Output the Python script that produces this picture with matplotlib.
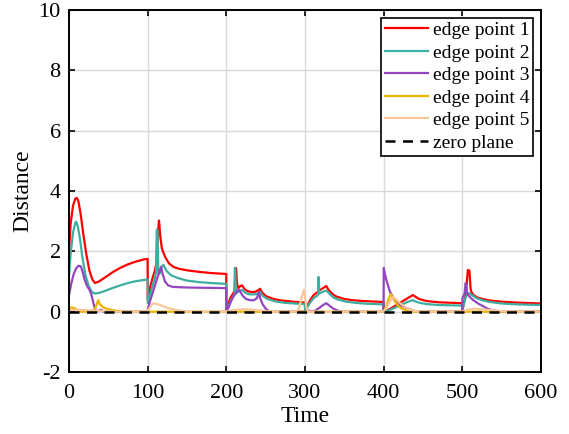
import matplotlib as mpl
import matplotlib.pyplot as plt

# edge point 1
t_1 = [0, 2, 5, 8, 10, 12, 15, 18, 22, 26, 30, 33, 38, 45, 55, 65, 75, 85, 95, 99.9,
       100.1, 103, 106, 109, 111, 113, 114.4, 116, 118, 122, 127, 133, 140, 150, 165, 180, 199.9,
       200.1, 203, 206, 209, 210.5, 211.5, 212.5, 213.5, 215, 218, 220, 223, 227, 232, 237, 241, 243, 245, 250, 260, 270, 285, 299.9,
       300.1, 303, 307, 311, 315, 319, 323, 327, 330, 335, 340, 350, 360, 375, 399.9,
       400.1, 405, 410, 415, 420, 425, 430, 434, 437, 440, 445, 455, 470, 499.9,
       500.1, 502, 504, 505.5, 507, 509, 510.5, 512, 515, 520, 527, 535, 550, 570, 600]
d_1 = [2.0, 2.9, 3.5, 3.75, 3.77, 3.65, 3.2, 2.6, 1.9, 1.35, 1.05, 0.95, 1.0, 1.12, 1.3, 1.45, 1.57, 1.66, 1.73, 1.75,
       0.4, 0.8, 1.1, 1.35, 1.6, 2.6, 3.02, 2.5, 2.1, 1.82, 1.6, 1.48, 1.42, 1.37, 1.32, 1.28, 1.25,
       0.05, 0.3, 0.5, 0.62, 0.7, 1.45, 1.43, 0.95, 0.78, 0.85, 0.87, 0.75, 0.68, 0.65, 0.66, 0.72, 0.76, 0.65, 0.52, 0.42, 0.37, 0.33, 0.3,
       0.05, 0.2, 0.4, 0.55, 0.63, 0.72, 0.78, 0.85, 0.72, 0.58, 0.5, 0.42, 0.38, 0.35, 0.32,
       0.02, 0.05, 0.12, 0.2, 0.28, 0.36, 0.44, 0.5, 0.55, 0.5, 0.42, 0.35, 0.31, 0.28,
       0.05, 0.3, 0.5, 0.9, 1.38, 1.36, 0.75, 0.62, 0.53, 0.46, 0.41, 0.37, 0.33, 0.3, 0.27]

# edge point 2
t_2 = [0, 2, 5, 8, 9, 11, 14, 17, 21, 25, 29, 33, 38, 45, 55, 65, 75, 85, 95, 99.9,
       100.1, 103, 106, 109, 110.5, 111.5, 112.5, 113.5, 115, 118, 120, 124, 130, 140, 150, 165, 180, 199.9,
       200.1, 203, 206, 209, 210.3, 210.8, 211.4, 212, 215, 218, 220, 224, 228, 233, 238, 241, 243, 246, 252, 262, 275, 299.9,
       300.1, 303, 307, 311, 315, 316.5, 317, 317.6, 318.2, 322, 327, 331, 336, 342, 352, 365, 380, 399.9,
       400.1, 405, 410, 415, 420, 425, 430, 437, 440, 446, 455, 470, 499.9,
       500.1, 502, 504, 506, 508, 512, 518, 525, 535, 550, 570, 600]
d_2 = [1.2, 1.9, 2.6, 2.95, 2.98, 2.85, 2.4, 1.8, 1.2, 0.85, 0.65, 0.6, 0.62, 0.68, 0.78, 0.87, 0.95, 1.01, 1.05, 1.07,
       0.28, 0.55, 0.85, 1.1, 1.3, 2.72, 2.7, 1.3, 1.25, 1.5, 1.55, 1.35, 1.2, 1.1, 1.03, 0.98, 0.95, 0.92,
       0.03, 0.2, 0.38, 0.52, 0.56, 1.45, 1.4, 0.6, 0.65, 0.7, 0.72, 0.63, 0.58, 0.57, 0.58, 0.62, 0.65, 0.53, 0.42, 0.34, 0.29, 0.25,
       0.03, 0.15, 0.32, 0.45, 0.52, 0.55, 1.15, 1.1, 0.6, 0.65, 0.7, 0.6, 0.47, 0.4, 0.33, 0.29, 0.26, 0.24,
       0.01, 0.03, 0.08, 0.14, 0.2, 0.26, 0.32, 0.38, 0.34, 0.29, 0.25, 0.22, 0.2,
       0.03, 0.25, 0.45, 0.58, 0.62, 0.55, 0.45, 0.38, 0.32, 0.27, 0.24, 0.22]

# edge point 3
t_3 = [0, 3, 6, 9, 12, 15, 17, 20, 23, 26, 28, 30, 32, 34, 36, 39, 41, 44, 99.9,
       100.1, 103, 106, 109, 112, 115, 117, 119, 122, 126, 132, 150, 199.9,
       200.1, 203, 206, 209, 212, 214, 216, 218, 221, 225, 230, 235, 239, 241.5, 243, 246, 250, 254, 258, 299.9,
       300.1, 303, 307, 312, 318, 323, 327, 331, 336, 342, 348, 399.8,
       400.1, 401.5, 404, 408, 412, 416.5, 422, 429, 436, 442, 499.9,
       500.1, 502, 503, 504, 505, 506, 509, 514, 520, 525, 532, 540, 548, 600]
d_3 = [0.55, 0.95, 1.25, 1.43, 1.52, 1.5, 1.35, 1.05, 0.85, 0.72, 0.6, 0.4, 0.18, 0.04, 0.0, 0.05, 0.06, 0.0, 0.0,
       0.08, 0.35, 0.6, 0.85, 1.1, 1.35, 1.48, 1.25, 1.0, 0.87, 0.82, 0.8, 0.78,
       0.0, 0.15, 0.35, 0.5, 0.62, 0.7, 0.73, 0.65, 0.52, 0.42, 0.38, 0.38, 0.45, 0.66, 0.45, 0.25, 0.1, 0.02, 0.0, 0.0,
       0.0, 0.05, 0.02, 0.02, 0.12, 0.22, 0.28, 0.2, 0.1, 0.03, 0.0, 0.0,
       1.45, 1.25, 1.0, 0.66, 0.47, 0.33, 0.2, 0.12, 0.05, 0.0, 0.0,
       0.45, 0.55, 0.62, 0.94, 0.9, 0.6, 0.5, 0.38, 0.27, 0.2, 0.1, 0.03, 0.0, 0.0]

# edge point 4
t_4 = [0, 4, 8, 12, 16, 22, 30, 34, 37, 39, 43, 50, 60, 70,
       400, 403, 406, 409, 411, 414, 418, 423, 430, 436, 600]
d_4 = [0.12, 0.14, 0.1, 0.03, 0.0, 0.0, 0.02, 0.15, 0.38, 0.25, 0.15, 0.08, 0.03, 0.0,
       0.0, 0.15, 0.4, 0.58, 0.5, 0.35, 0.2, 0.1, 0.03, 0.0, 0.0]

# edge point 5
t_5 = [0, 10, 20, 30, 40, 50, 60, 100,
       100.1, 103, 107, 112, 118, 125, 135, 145, 155,
       200, 205, 215, 225, 235, 245, 255, 265,
       290, 293, 296, 298.5, 300, 302, 304,
       400, 403, 407, 412, 416, 420, 426, 432, 440, 448,
       500, 505, 515, 525, 540, 555, 565, 600]
d_5 = [0.05, 0.06, 0.05, 0.04, 0.03, 0.01, 0.0, 0.0,
       0.05, 0.15, 0.28, 0.25, 0.2, 0.13, 0.06, 0.02, 0.0,
       0.0, 0.03, 0.07, 0.08, 0.06, 0.03, 0.01, 0.0,
       0.0, 0.15, 0.5, 0.72, 0.5, 0.1, 0.0,
       0.0, 0.1, 0.3, 0.48, 0.4, 0.3, 0.17, 0.08, 0.02, 0.0,
       0.0, 0.05, 0.1, 0.08, 0.04, 0.01, 0.0, 0.0]

series = [
    (t_1, d_1, '#FF0000', 'edge point 1'),
    (t_2, d_2, '#3DAE9F', 'edge point 2'),
    (t_3, d_3, '#9346C0', 'edge point 3'),
    (t_4, d_4, '#EDB400', 'edge point 4'),
    (t_5, d_5, '#F7C79A', 'edge point 5'),
]

plt.rcParams['font.family'] = ['Liberation Serif', 'DejaVu Serif']
plt.rcParams['axes.unicode_minus'] = False

fig = plt.figure(figsize=(5.69, 4.34), dpi=100)
ax = fig.add_axes([0.1213, 0.1429, 0.8295, 0.8341])

for t, d, c, lab in series:
    ax.plot(t, d, color=c, linewidth=1.6, label=lab)
ax.plot([0, 600], [0, 0], color='k', linewidth=1.8, linestyle=(0, (4, 3)), label='zero plane')

# axes settings
ax.set_xlim(0, 600)
ax.set_ylim(-2, 10)
ax.set_xticks(range(0, 601, 100))
ax.set_yticks(range(-2, 11, 2))
ax.grid(True, color='#d9d9d9', linewidth=1.0)
ax.set_axisbelow(True)
ax.tick_params(direction='in', top=True, right=True, labelsize=16, length=4, width=1.2, pad=6)
ax.tick_params(axis='x', pad=9)
for s in ax.spines.values():
    s.set_linewidth(1.4)
ax.set_xlabel('Time', fontsize=17, labelpad=2)
ax.set_ylabel('Distance', fontsize=17, labelpad=4)

leg = ax.legend(loc='upper right', fontsize=14, frameon=True, fancybox=False,
                edgecolor='k', framealpha=1, handlelength=2.2, handletextpad=0.25,
                labelspacing=0.25, borderpad=0.2, borderaxespad=0.4)
leg.get_frame().set_linewidth(1.2)

plt.savefig('out.png', dpi=100)
